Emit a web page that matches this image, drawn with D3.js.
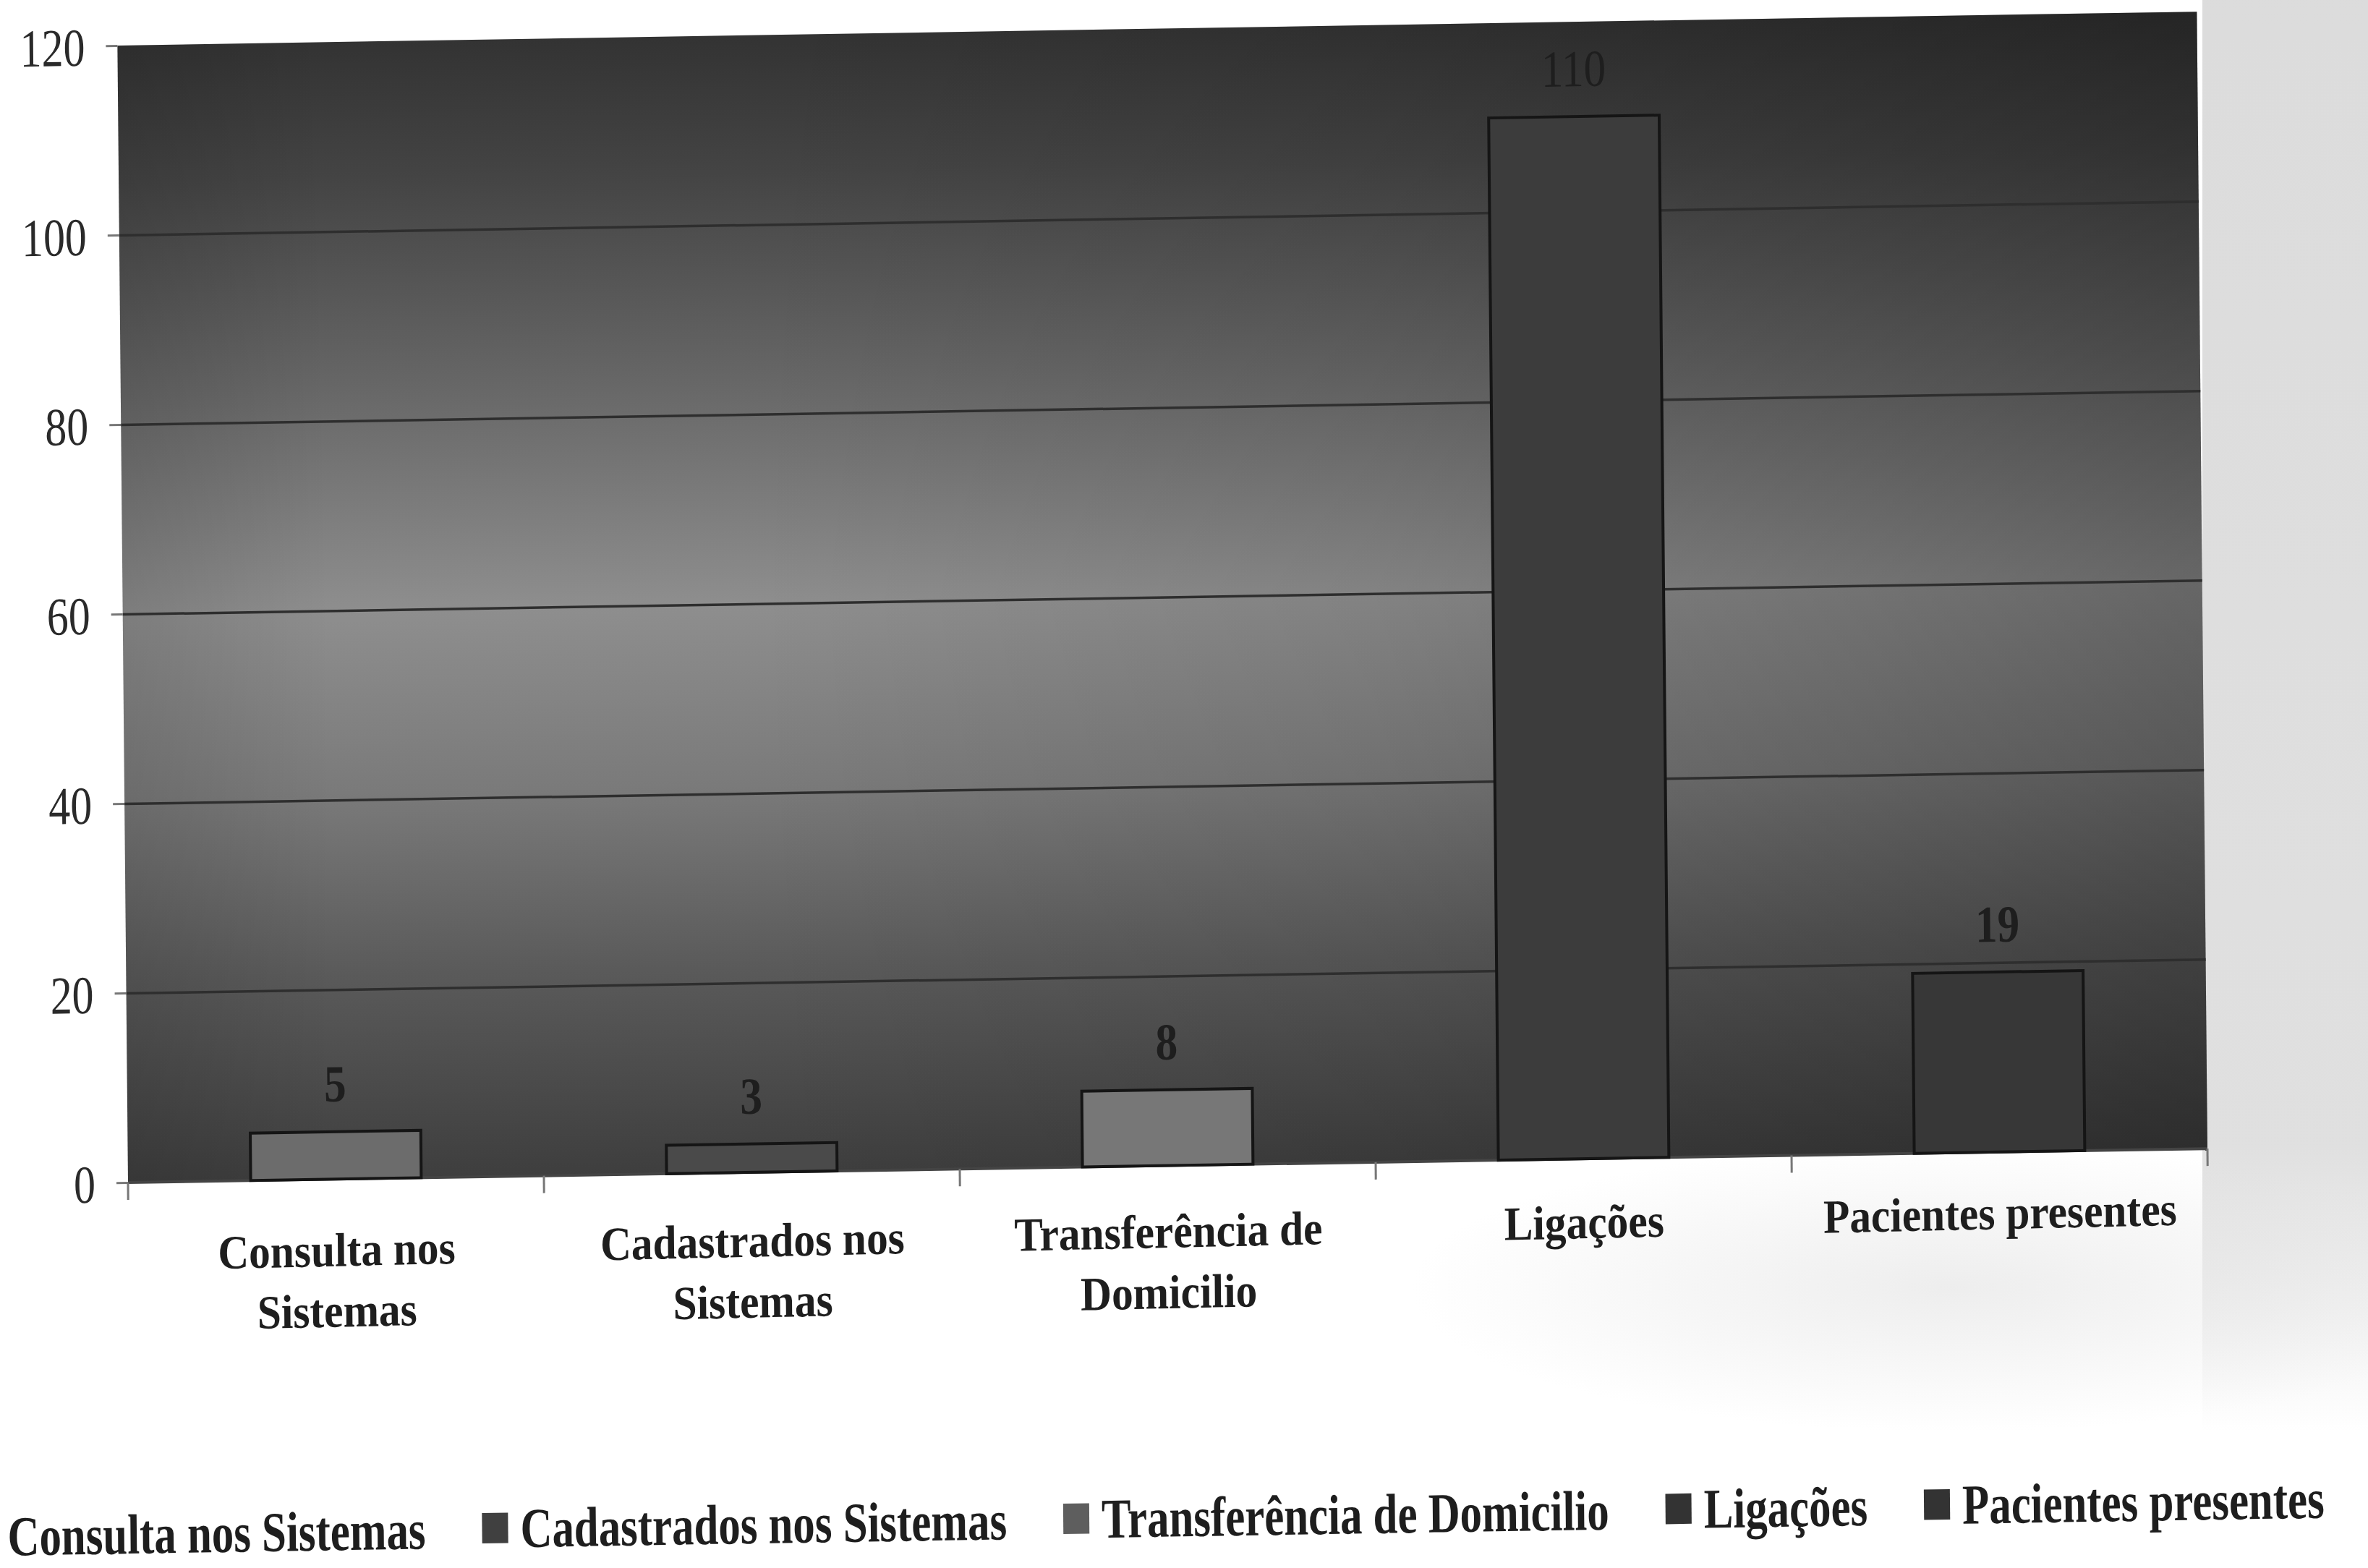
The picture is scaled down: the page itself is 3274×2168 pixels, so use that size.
<!DOCTYPE html>
<html><head><meta charset="utf-8">
<script src="https://cdn.jsdelivr.net/npm/d3@7"></script>
<style>html,body{margin:0;padding:0;background:#fff;overflow:hidden}</style>
</head><body>
<svg id="chart" width="3274" height="2168"></svg>
<script>
// ---- data ----
const categories = ["Consulta nos Sistemas", "Cadastrados nos Sistemas", "Transferência de Domicilio", "Ligações", "Pacientes presentes"];
const categoryLines = [["Consulta nos", "Sistemas"], ["Cadastrados nos", "Sistemas"], ["Transferência de", "Domicilio"], ["Ligações"], ["Pacientes presentes"]];
const values = [5, 3, 8, 110, 19];
const yTickValues = [0, 20, 40, 60, 80, 100, 120];
const legendLabels = ["Consulta nos Sistemas", "Cadastrados nos Sistemas", "Transferência de Domicilio", "Ligações", "Pacientes presentes"];

// ---- styles ----
const barColors = ["#6c6c6c", "#4a4a4a", "#777777", "#3c3c3c", "#373737"];
const legendColors = ["#555555", "#404040", "#5e5e5e", "#333333", "#333333"];
const serif = "'Liberation Serif','Times New Roman',serif";

const W = 3274, H = 2168;
const plot = {left: 177, top: 63, right: 3052, bottom: 1635};
const svg = d3.select("#chart");
svg.append("rect").attr("width", W).attr("height", H).attr("fill", "#fff");

const defs = svg.append("defs");
const vg = defs.append("linearGradient").attr("id", "bgV").attr("x1", 0).attr("y1", 0).attr("x2", 0).attr("y2", 1);
[[0, "#333333"], [0.12, "#444444"], [0.3, "#666666"], [0.5, "#8e8e8e"], [0.66, "#7a7a7a"], [0.82, "#5a5a5a"], [1, "#3e3e3e"]]
  .forEach(s => vg.append("stop").attr("offset", s[0]).attr("stop-color", s[1]));
const hg = defs.append("linearGradient").attr("id", "bgH").attr("x1", 0).attr("y1", 0).attr("x2", 1).attr("y2", 0);
[[0, 0.12], [0.1, 0.0], [0.3, 0.0], [0.6, 0.08], [0.85, 0.2], [1, 0.28]]
  .forEach(s => hg.append("stop").attr("offset", s[0]).attr("stop-color", "#000").attr("stop-opacity", s[1]));
const eg = defs.append("linearGradient").attr("id", "edgeV").attr("x1", 0).attr("y1", 0).attr("x2", 0).attr("y2", 1);
[[0, 0.9], [0.8, 0.8], [1, 0]].forEach(s => eg.append("stop").attr("offset", s[0]).attr("stop-color", "#d8d8d8").attr("stop-opacity", s[1]));
const bg2 = defs.append("radialGradient").attr("id", "blob");
[[0, 0.45], [1, 0]].forEach(s => bg2.append("stop").attr("offset", s[0]).attr("stop-color", "#d8d8d8").attr("stop-opacity", s[1]));

// scan texture on the right margin and below the plot
svg.append("rect").attr("x", 3045).attr("y", 0).attr("width", W - 3045).attr("height", 1980).attr("fill", "url(#edgeV)");
svg.append("ellipse").attr("cx", 2700).attr("cy", 1780).attr("rx", 750).attr("ry", 200).attr("fill", "url(#blob)");

const root = svg.append("g")
  .attr("transform", `translate(${plot.left},${plot.bottom}) matrix(1,-0.0163,0.0093,1,0,0) translate(${-plot.left},${-plot.bottom})`);

const x = d3.scaleBand().domain(categories).range([plot.left, plot.right]).paddingInner(0.59).paddingOuter(0.295);
const y = d3.scaleLinear().domain([0, 120]).range([plot.bottom, plot.top]);
const pw = plot.right - plot.left;

// plot background
root.append("rect").attr("x", plot.left).attr("y", plot.top).attr("width", pw).attr("height", plot.bottom - plot.top).attr("fill", "url(#bgV)");
root.append("rect").attr("x", plot.left).attr("y", plot.top).attr("width", pw).attr("height", plot.bottom - plot.top).attr("fill", "url(#bgH)");

// gridlines
const grid = root.append("g").attr("transform", `translate(${plot.left},0)`)
  .call(d3.axisLeft(y).tickValues(yTickValues.filter(v => v > 0 && v < 120)).tickSize(-pw).tickFormat(""));
grid.select(".domain").remove();
grid.selectAll("line").attr("stroke", "#2e2e2e").attr("stroke-width", 3.5);

// y axis
const yAxis = root.append("g").attr("transform", `translate(${plot.left},0)`)
  .call(d3.axisLeft(y).tickValues(yTickValues).tickSizeInner(16).tickSizeOuter(0));
yAxis.select(".domain").remove();
yAxis.selectAll("line").attr("stroke", "#777").attr("stroke-width", 3);
yAxis.selectAll("text").attr("x", null).attr("dy", "0.36em")
  .attr("transform", "translate(-45,0) scale(0.81,1)")
  .attr("text-anchor", "end").attr("fill", "#2a2a2a")
  .style("font-family", serif).style("font-size", "74px");

// x axis line and boundary ticks
root.append("line").attr("x1", plot.left).attr("x2", plot.right).attr("y1", y(0)).attr("y2", y(0)).attr("stroke", "#444").attr("stroke-width", 4);
root.append("g").selectAll("line").data(d3.range(categories.length + 1)).join("line")
  .attr("x1", i => plot.left + i * x.step()).attr("x2", i => plot.left + i * x.step())
  .attr("y1", y(0)).attr("y2", y(0) + 24).attr("stroke", "#777").attr("stroke-width", 3);

// bars
root.append("g").selectAll("rect").data(values).join("rect")
  .attr("x", (d, i) => x(categories[i])).attr("y", d => y(d))
  .attr("width", x.bandwidth()).attr("height", d => y(0) - y(d))
  .attr("fill", (d, i) => barColors[i]).attr("stroke", "#151515").attr("stroke-width", 4);

// data labels
root.append("g").selectAll("text").data(values).join("text")
  .attr("transform", (d, i) => `translate(${x(categories[i]) + x.bandwidth() / 2},${y(d) - 42}) scale(0.85,1)`)
  .attr("text-anchor", "middle").attr("fill", "#1e1e1e")
  .style("font-family", serif).style("font-weight", (d, i) => d >= 100 ? "normal" : "bold").style("font-size", "72px")
  .text(d => d);

// category labels
const xl = root.append("g").attr("transform", `matrix(1,-0.006,0,1,0,${0.006 * plot.left})`);
categoryLines.forEach((lines, i) => {
  lines.forEach((ln, j) => {
    xl.append("text")
      .attr("transform", `translate(${x(categories[i]) + x.bandwidth() / 2},${plot.bottom + 122 + j * 84}) scale(0.9,1)`)
      .attr("text-anchor", "middle").attr("fill", "#1e1e1e")
      .style("font-family", serif).style("font-weight", "bold").style("font-size", "66px")
      .text(ln);
  });
});

// legend
const lg = root.append("g");
const legBase = 2148, sx = 0.78;
let cx = -47;
legendLabels.forEach((lab, i) => {
  lg.append("rect").attr("x", cx).attr("y", legBase - 48).attr("width", 36).attr("height", 42)
    .attr("fill", legendColors[i]);
  cx += 36 + 17;
  const t = lg.append("text")
    .attr("transform", `translate(${cx},${legBase}) scale(${sx},1)`)
    .attr("fill", "#1e1e1e")
    .style("font-family", serif).style("font-weight", "bold").style("font-size", "78px")
    .text(lab);
  cx += t.node().getComputedTextLength() * sx + 78;
});
</script>
</body></html>
